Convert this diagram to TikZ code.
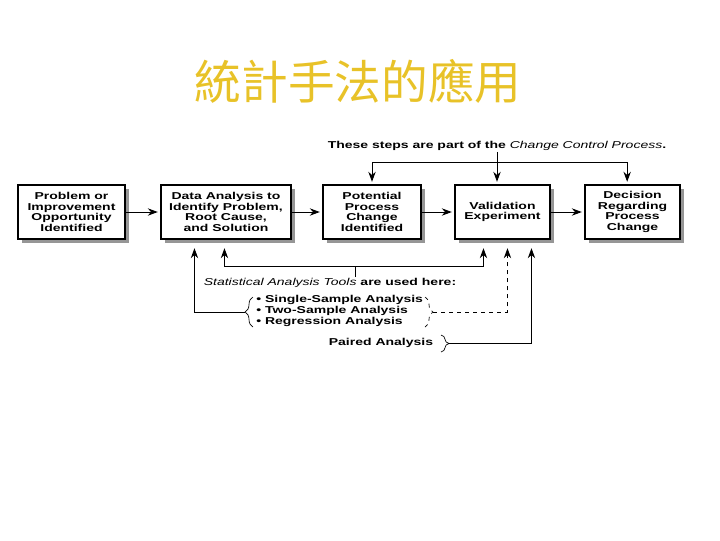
\documentclass[tikz,border=0pt]{standalone}
\usepackage{fontspec}
\setmainfont{Liberation Sans}[FakeStretch=1.4]
\newfontfamily\cjk{Noto Sans CJK TC}
\usetikzlibrary{arrows.meta,shadows,decorations.pathreplacing}
\definecolor{titlegold}{RGB}{232,194,40}
\definecolor{shadowgray}{RGB}{150,150,150}
\tikzset{
  stepbox/.style={draw, line width=0.8pt, fill=white, align=center, inner sep=0pt,
    font=\fontsize{7.5}{8}\selectfont\bfseries, minimum height=40.5pt,
    drop shadow={shadow xshift=3pt, shadow yshift=-3pt, fill=shadowgray, opacity=1}},
  flow/.style={line width=0.7pt, -{Stealth[length=7.5pt,width=5.5pt]}, shorten >=2pt},
  note/.style={inner sep=0.75pt, font=\fontsize{7.5}{8}\selectfont\bfseries},
  curly/.style={decorate, decoration={brace, amplitude=6pt}, line width=0.5pt},
}
\begin{document}
\begin{tikzpicture}[x=0.75pt,y=0.75pt,yscale=-1,xscale=1]
\useasboundingbox (0,0) rectangle (720,540);

% Title
\node (title) at (358,81) [inner sep=0pt, text=titlegold, font=\cjk\fontsize{35}{36}\selectfont] {統計手法的應用};

% Steps
\node (b1) at (71.5,212) [stepbox, minimum width=80.25pt] {Problem or\\Improvement\\Opportunity\\Identified};
\node (b2) at (226,212) [stepbox, minimum width=97.5pt] {Data Analysis to\\Identify Problem,\\Root Cause,\\and Solution};
\node (b3) at (372,212) [stepbox, minimum width=73.5pt] {Potential\\Process\\Change\\Identified};
\node (b4) at (502.5,212) [stepbox, minimum width=71.25pt] {Validation\\Experiment};
\node (b5) at (632.5,212) [stepbox, minimum width=71.25pt] {Decision\\Regarding\\Process\\Change};

\draw[flow] (b1) -- (b2);
\draw[flow] (b2) -- (b3);
\draw[flow] (b3) -- (b4);
\draw[flow] (b4) -- (b5);

% Change control process
\node (ctrl) at (497,146) [note] {These steps are part of the \textit{\mdseries Change Control Process}.};
\coordinate (ctop) at (497,162);
\draw[flow] (ctrl.south) -- (ctop |- b4.north);
\draw[flow] (ctop) -| (b3.north);
\draw[flow] (ctop) -| ([xshift=-4pt]b5.north);

% Statistical tools
\node (tools) at (330,283) [note] {\textit{\mdseries Statistical Analysis Tools} are used here:};
\node (list) at (255,311) [note, anchor=west, align=left] {• Single-Sample Analysis\\• Two-Sample Analysis\\• Regression Analysis};
\node (paired) at (381,343) [note] {Paired Analysis};

\coordinate (tj) at (355,266);
\draw[line width=0.7pt] (tools.north -| tj) -- (tj);
\draw[flow, shorten >=6.5pt] (tj) -| ([xshift=48pt]b2.south west);
\draw[flow, shorten >=6.5pt] (tj) -| ([xshift=21.75pt]b4.south west);

% Braces
\draw[curly] (253,327) -- (253,297);
\coordinate (brL) at (245,312);
\draw[curly, dashed] (425,297) -- (425,327);
\coordinate (brR) at (433,312);
\draw[curly] (441,335) -- (441,352);
\coordinate (brP) at (449,343.5);

\draw[flow, shorten >=6.5pt] (brL) -| ([xshift=25.5pt]b2.south west);
\draw[flow, dashed, shorten >=6.5pt] (brR) -| ([xshift=39.75pt]b4.south west);
\draw[flow, shorten >=6.5pt] (brP) -| ([xshift=57.75pt]b4.south west);

\end{tikzpicture}
\end{document}
